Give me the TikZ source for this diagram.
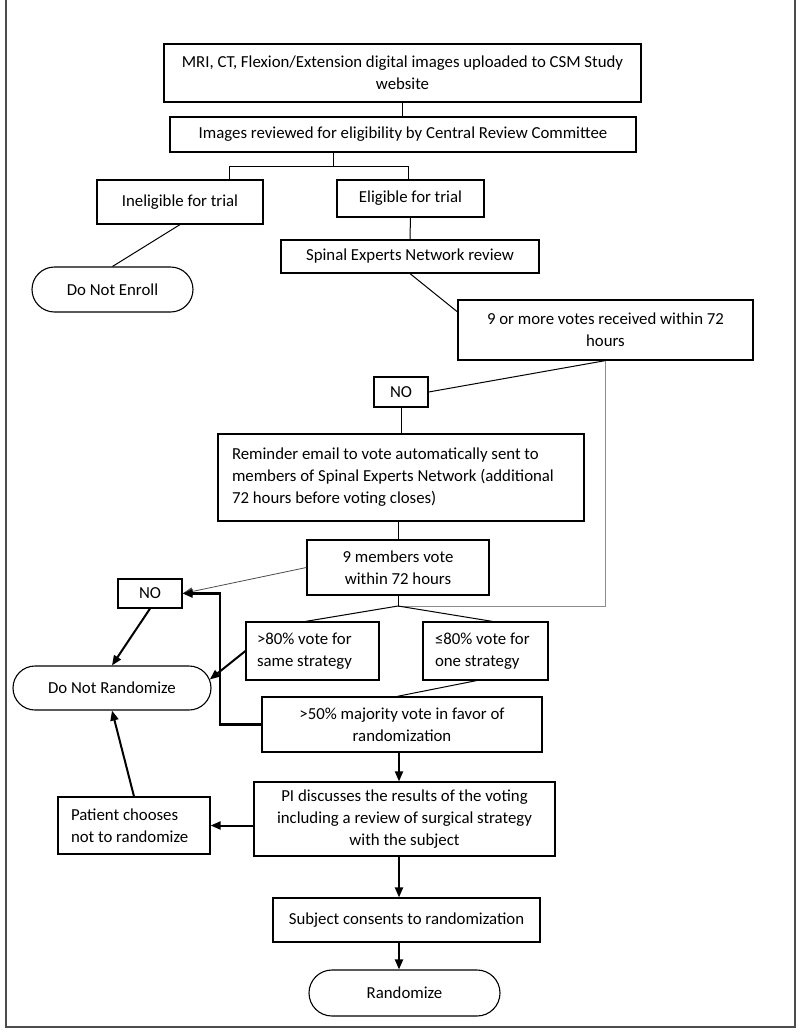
\documentclass[tikz,border=0pt]{standalone}
\usepackage{fontspec}
\setmainfont{Carlito}
\usepackage{tikz}
\usetikzlibrary{shapes.misc,arrows.meta}

\tikzset{
  box/.style={draw, line width=1.2pt, inner sep=0pt, align=center},
  lbox/.style={box, align=flush left},
  term/.style={draw, line width=1.1pt, rounded rectangle, inner sep=0pt},
  link/.style={line width=1pt},
  greylink/.style={line width=1pt, draw=black!45},
  thinarrow/.style={line width=0.8pt, draw=black!70, -{Triangle[length=10pt,width=8pt]}},
  flow/.style={line width=2pt, -{Triangle[length=10pt,width=8pt]}},
  frame/.style={line width=1.5pt, draw=black!70}
}

\begin{document}
\begin{tikzpicture}[x=1pt,y=-1pt,font=\fontsize{16.8pt}{22pt}\selectfont]
    \useasboundingbox (0,0) rectangle (800,1034);
    \draw[frame] (6,0) -- (6,1027) -- (795,1027) -- (795,0);

    % boxes
    \node[box,minimum width=477pt,minimum height=58pt] (mri) at (402.5,73)
        {MRI, CT, Flexion/Extension digital images uploaded to CSM Study\\website};
    \node[box,minimum width=466pt,minimum height=35pt] (review) at (403,134.5)
        {Images reviewed for eligibility by Central Review Committee};
    \node[box,minimum width=166pt,minimum height=44pt] (inelig) at (180,202) {Ineligible for trial};
    \node[box,minimum width=147pt,minimum height=37pt] (elig) at (410.5,198.5) {Eligible for trial};
    \node[box,minimum width=258pt,minimum height=33pt] (spinal) at (410,256.5) {Spinal Experts Network review};
    \node[term,minimum width=161pt,minimum height=45pt] (noenroll) at (112.5,289.5) {Do Not Enroll};
    \node[box,minimum width=295pt,minimum height=60pt] (ninemore) at (605.5,330)
        {9 or more votes received within 72\\hours};
    \node[box,minimum width=54pt,minimum height=30pt] (noA) at (401,392) {NO};
    \node[lbox,text width=338pt,inner xsep=14pt,minimum height=87pt] (remind) at (401,477.5)
        {Reminder email to vote automatically sent to\\members of Spinal Experts Network (additional\\72 hours before voting closes)};
    \node[box,minimum width=182pt,minimum height=55pt] (ninemem) at (398,567.5)
        {9 members vote\\within 72 hours};
    \node[box,minimum width=64pt,minimum height=29pt] (noB) at (150,593.5) {NO};
    \node[lbox,text width=111pt,inner xsep=11pt,minimum height=58pt] (over) at (312.5,651)
        {>80\% vote for\\same strategy};
    \node[lbox,text width=101pt,inner xsep=12pt,minimum height=58pt] (under) at (485.5,651)
        {≤80\% vote for\\one strategy};
    \node[term,minimum width=198pt,minimum height=44pt] (dnr) at (112,688) {Do Not Randomize};
    \node[box,minimum width=280pt,minimum height=55pt] (maj) at (402,724.5)
        {>50\% majority vote in favor of\\randomization};
    \node[box,minimum width=301pt,minimum height=74pt] (pi) at (404.5,819)
        {PI discusses the results of the voting\\including a review of surgical strategy\\with the subject};
    \node[lbox,text width=126pt,inner xsep=13pt,minimum height=57pt] (patient) at (134,825.5)
        {Patient chooses\\not to randomize};
    \node[box,minimum width=267pt,minimum height=44pt] (consent) at (406.5,920)
        {Subject consents to randomization};
    \node[term,minimum width=191pt,minimum height=46pt] (rand) at (404.5,993) {Randomize};

    \coordinate (split) at (333,166);
    \coordinate (brL) at (229,166);
    \coordinate (brR) at (408,166);
    \coordinate (join) at (398,606);
    \coordinate (spine) at (399,0);

    % top part
    \draw[link] (mri.south) -- (mri.south |- review.north);
    \draw[link] (split |- review.south) -- (split);
    \draw[link] (brL |- inelig.north) -- (brL) -- (brR) -- (brR |- elig.north);
    \draw[link] (inelig.south) -- (noenroll.north);
    \draw[link] (elig) -- (spinal);
    \draw[link] (spinal.south) -- (ninemore.173);
    \draw[link] (ninemore.south) -- (noA.east);
    \draw[greylink] (ninemore.south) -- (ninemore.south |- join) -- (join);
    \draw[link] (noA) -- (remind);
    \draw[link] (ninemem.north |- remind.south) -- (ninemem.north);

    % voting results
    \draw[thinarrow] (ninemem.west) -- (noB.east);
    \draw[link] (ninemem.south) -- (join);
    \draw[link] (join) -- ([xshift=-7pt]over.north);
    \draw[link] (join) -- ([xshift=7pt]under.north);
    \draw[link] ([xshift=-9pt]under.south) -- ([xshift=-5pt]maj.north);
    \draw[flow] (over.west) -- (dnr.5);
    \draw[flow] (noB.south) -- (dnr.north);
    \draw[flow,line width=2.4pt] (maj.west) -- ++(-41.5,0) |- (noB.east);

    % bottom part
    \draw[flow] (spine |- maj.south) -- (spine |- pi.north);
    \draw[flow] (pi.west |- patient.east) -- (patient.east);
    \draw[flow] (patient.north) -- (dnr.south);
    \draw[flow] (spine |- pi.south) -- (spine |- consent.north);
    \draw[flow] (spine |- consent.south) -- (spine |- rand.north);
\end{tikzpicture}
\end{document}
